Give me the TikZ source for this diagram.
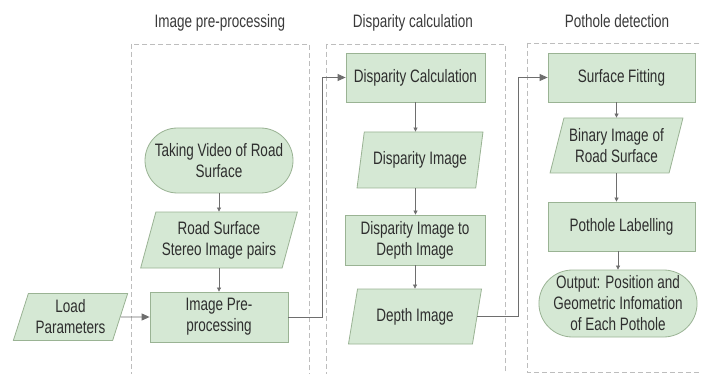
\documentclass[tikz,border=0pt]{standalone}
\usepackage{fontspec}
\setmainfont{Liberation Sans}[FakeStretch=0.75]
\usetikzlibrary{shapes.geometric,shapes.misc,arrows.meta}
\definecolor{boxfill}{HTML}{D5E8D4}
\definecolor{boxline}{HTML}{9AB394}
\definecolor{txtc}{HTML}{2E2E2E}
\definecolor{arrowc}{HTML}{6E6E6E}
\definecolor{dashc}{HTML}{BDBDBD}
\definecolor{titlec}{HTML}{3A3A3A}
\begin{document}
\begin{tikzpicture}[x=1pt,y=-1pt,
  base/.style={draw=boxline, fill=boxfill, line width=0.8pt, text=txtc,
    font=\fontsize{18}{21}\selectfont, align=center, inner sep=0pt},
  procbox/.style={base, rectangle},
  databox/.style={base, trapezium, trapezium left angle=70,
    trapezium right angle=110, trapezium stretches=true},
  termbox/.style={base, rounded rectangle},
  title/.style={text=titlec, font=\fontsize{18}{21}\selectfont, anchor=base, inner sep=0pt},
  lane/.style={draw=dashc, dashed, dash pattern=on 5pt off 3pt, line width=0.8pt},
  bigarr/.style={draw=arrowc, line width=0.9pt, -{Triangle[length=8pt,width=7pt]}},
  smallarr/.style={draw=arrowc, line width=0.7pt, -{Triangle[length=4pt,width=4pt]}}
]
\useasboundingbox (0,0) rectangle (701,374);
\fill[white] (0,0) rectangle (701,374);
\begin{scope}
\clip (0,0) rectangle (701,374);
\draw[lane] (131,44) rectangle (309,390);
\draw[lane] (326,44) rectangle (505,390);
\draw[lane] (527,43) rectangle (720,372);
\end{scope}

\node[title] (t1) at (220,28) {Image pre-processing};
\node[title] (t2) at (413,28) {Disparity calculation};
\node[title] (t3) at (617,28) {Pothole detection};

% column 1
\node[termbox, minimum width=148, minimum height=65] (take) at (219,160.5) {Taking Video of Road\\Surface};
\node[databox, minimum width=157, minimum height=56] (stereo) at (219,240) {Road Surface\\Stereo Image pairs};
\node[procbox, minimum width=138, minimum height=50] (imgpre) at (219,317) {Image Pre-\\processing};
\node[databox, minimum width=115, minimum height=47] (load) at (70.5,317) {Load\\Parameters};

% column 2
\node[procbox, minimum width=139, minimum height=49] (dcalc) at (415.5,77.5) {Disparity Calculation};
\node[databox, minimum width=126, minimum height=56] (dimg) at (420,160) {Disparity Image};
\node[procbox, minimum width=140, minimum height=50] (d2d) at (415,240) {Disparity Image to\\Depth Image};
\node[databox, minimum width=134, minimum height=55] (depth) at (415,316.5) {Depth Image};

% column 3
\node[procbox, minimum width=147, minimum height=49] (surf) at (621.5,77.5) {Surface Fitting};
\node[databox, minimum width=133, minimum height=55] (binary) at (616.5,145.5) {Binary Image of\\Road Surface};
\node[procbox, minimum width=147, minimum height=49] (plabel) at (621.5,226.5) {Pothole Labelling};
\node[termbox, minimum width=150, minimum height=67] (output) at (618,303.5) {Output: Position and\\Geometric Infomation\\of Each Pothole};

\coordinate (j1) at (322,0);
\coordinate (j2) at (518,0);

% connectors
\draw[smallarr] (take.south) -- (take.south |- stereo.north);
\draw[smallarr] (stereo.south) -- (stereo.south |- imgpre.north);
\draw[bigarr] (load.east) -- (imgpre.west);
\draw[bigarr] (imgpre.east) -- (imgpre.east -| j1) |- (dcalc.west);
\draw[smallarr] (dcalc.south) -- (dcalc.south |- dimg.north);
\draw[smallarr] (dcalc.south |- dimg.south) -- (dcalc.south |- d2d.north);
\draw[smallarr] (d2d.south) -- (d2d.south |- depth.north);
\draw[bigarr] (depth.east) -- (depth.east -| j2) |- (surf.west);
\draw[smallarr] (surf.south -| binary.north) -- (binary.north);
\draw[smallarr] (binary.south) -- (binary.south |- plabel.north);
\draw[smallarr] (plabel.south -| output.north) -- (output.north);
\end{tikzpicture}
\end{document}
